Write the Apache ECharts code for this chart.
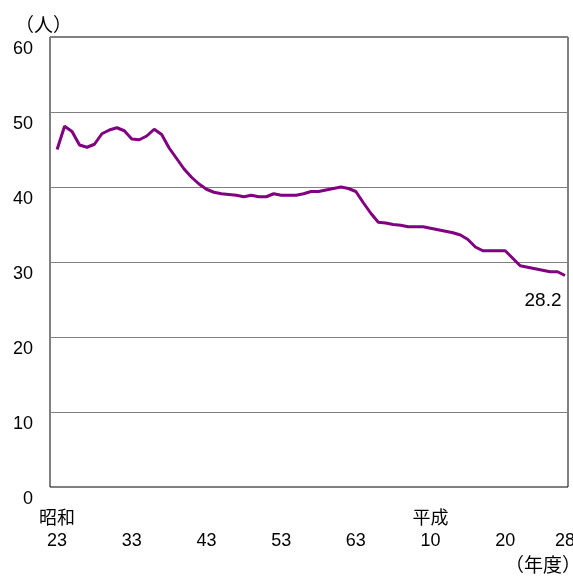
<!DOCTYPE html>
<html>
<head>
<meta charset="utf-8">
<script src="https://cdn.jsdelivr.net/npm/echarts@6/dist/echarts.min.js"></script>
<style>
html,body{margin:0;padding:0;background:#fff;}
#chart{width:573px;height:576px;}
</style>
</head>
<body>
<div id="chart"></div>
<script>
// Fiscal years (Western) : Showa 23 (1948) .. Heisei 28 (2016)
const years = [];
for (let y = 1948; y <= 2016; y++) years.push(y);
const values = [
  45.0, 48.1, 47.4, 45.6, 45.3, 45.7, 47.1, 47.6, 47.9, 47.5,
  46.4, 46.3, 46.8, 47.7, 47.0, 45.2, 43.8, 42.4, 41.3, 40.4,
  39.7, 39.3, 39.1, 39.0, 38.9, 38.7, 38.9, 38.7, 38.7, 39.1,
  38.9, 38.9, 38.9, 39.1, 39.4, 39.4, 39.6, 39.8, 40.0, 39.8,
  39.4, 37.9, 36.5, 35.3, 35.2, 35.0, 34.9, 34.7, 34.7, 34.7,
  34.5, 34.3, 34.1, 33.9, 33.6, 33.0, 32.0, 31.5, 31.5, 31.5,
  31.5, 30.5, 29.5, 29.3, 29.1, 28.9, 28.7, 28.7, 28.2
];
const tickYears = [1948, 1958, 1968, 1978, 1988, 1998, 2008, 2016];
const tickEra = ['昭和', '', '', '', '', '平成', '', ''];
const tickNums = ['23', '33', '43', '53', '63', '10', '20', '28'];
const yTicks = [0, 10, 20, 30, 40, 50, 60];
const yUnit = '（人）';
const xUnit = '（年度）';

const FONT = "'Liberation Sans', 'Noto Sans CJK JP', sans-serif";
const CJK = "'Noto Sans CJK JP', sans-serif";
const data = years.map((y, i) => [y, values[i]]);
const lastIdx = data.length - 1;

const chart = echarts.init(document.getElementById('chart'));
chart.setOption({
  animation: false,
  backgroundColor: '#fff',
  grid: { left: 50, right: 5, top: 37, bottom: 89, show: true, borderColor: '#000', borderWidth: 1, backgroundColor: 'transparent', outerBoundsMode: 'none', containLabel: false },
  xAxis: {
    type: 'value', min: 1947.05, max: 2016.4,
    axisLine: { show: false }, axisTick: { show: false }, splitLine: { show: false },
    axisLabel: {
      customValues: tickYears,
      margin: 21,
      fontFamily: FONT, fontSize: 18, color: '#000', lineHeight: 22,
      hideOverlap: false,
      alignMaxLabel: 'center',
      formatter: function (v) {
        const i = tickYears.indexOf(Math.round(v));
        if (i < 0) return '';
        return (tickEra[i] || ' ') + '\n' + tickNums[i];
      }
    }
  },
  yAxis: {
    type: 'value', min: 0, max: 60, interval: 10,
    axisLine: { show: false }, axisTick: { show: false },
    splitLine: { lineStyle: { color: '#808080', width: 1 } },
    axisLabel: {
      customValues: yTicks,
      margin: 17, fontFamily: FONT, fontSize: 18, color: '#000',
      lineHeight: 24,
      formatter: function (v) { return ' \n' + v; }
    }
  },
  series: [{
    type: 'line',
    data: data,
    symbol: 'none',
    lineStyle: { color: '#800080', width: 3 },
    markPoint: {
      symbol: 'circle', symbolSize: 0,
      data: [{ coord: data[lastIdx], value: values[lastIdx] }],
      label: {
        show: true, position: 'bottom', distance: 5, offset: [-22, 11],
        fontFamily: FONT, fontSize: 19, color: '#000',
        formatter: function (p) { return p.value.toFixed(1); }
      }
    }
  }],
  graphic: [
    { type: 'text', left: 15, top: 15, style: { text: yUnit, font: "19px " + CJK, fill: '#000' } },
    { type: 'text', left: 505, top: 555, style: { text: xUnit, font: "19px " + CJK, fill: '#000' } }
  ]
});
</script>
</body>
</html>
